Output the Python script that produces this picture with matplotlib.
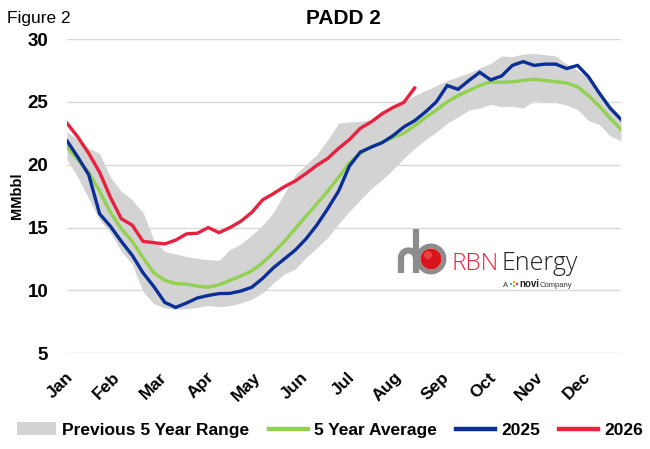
import matplotlib
matplotlib.use("Agg")
import matplotlib.pyplot as plt
import numpy as np
from matplotlib.patches import Patch, Circle
from matplotlib.lines import Line2D

plt.rcParams['font.family'] = ['Liberation Sans', 'DejaVu Sans']

months = ['Jan', 'Feb', 'Mar', 'Apr', 'May', 'Jun', 'Jul', 'Aug', 'Sep', 'Oct', 'Nov', 'Dec']
yticks = [5, 10, 15, 20, 25, 30]

range_upper = [22.6, 22.0, 21.3, 20.9, 19.0, 17.9, 17.2, 16.2, 14.0, 13.1,
               12.9, 12.7, 12.55, 12.45, 12.4, 13.25, 13.7, 14.4, 15.2, 16.2,
               17.7, 19.2, 20.0, 20.8, 22.0, 23.3, 23.4, 23.45, 23.6, 24.3,
               24.5, 25.0, 25.5, 25.9, 26.3, 26.7, 27.0, 27.3, 27.7, 28.05,
               28.65, 28.6, 28.8, 28.85, 28.75, 28.65, 28.0, 27.5, 26.9, 25.8,
               24.7, 23.8]
range_lower = [20.4, 19.0, 17.3, 15.6, 14.6, 13.1, 12.1, 9.9, 8.95, 8.6,
               8.5, 8.55, 8.65, 8.8, 8.7, 8.8, 9.0, 9.3, 9.8, 10.6,
               11.3, 11.7, 12.6, 13.4, 14.2, 15.3, 16.3, 17.2, 18.1, 18.8,
               19.6, 20.5, 21.3, 22.0, 22.6, 23.3, 23.8, 24.35, 24.5, 24.8,
               24.6, 24.65, 24.5, 25.1, 25.0, 24.95, 24.75, 24.4, 23.5, 23.2,
               22.3, 21.9]
avg_5yr = [21.4, 20.4, 19.4, 17.9, 16.2, 14.9, 13.9, 12.6, 11.4, 10.8,
           10.55, 10.5, 10.35, 10.25, 10.45, 10.8, 11.15, 11.55, 12.2, 13.0,
           13.9, 14.9, 15.9, 16.9, 17.9, 19.0, 20.15, 20.9, 21.4, 21.8,
           22.15, 22.5, 23.1, 23.75, 24.35, 25.0, 25.5, 25.9, 26.3, 26.6,
           26.55, 26.6, 26.7, 26.8, 26.7, 26.6, 26.5, 26.2, 25.5, 24.65,
           23.7, 22.8]
y2025 = [21.9, 20.6, 19.2, 16.1, 15.1, 13.9, 12.8, 11.4, 10.3, 9.05,
         8.65, 9.0, 9.4, 9.6, 9.75, 9.77, 9.95, 10.25, 10.95, 11.8,
         12.5, 13.2, 14.1, 15.2, 16.5, 17.9, 19.9, 21.0, 21.4, 21.75,
         22.3, 23.0, 23.5, 24.2, 25.0, 26.3, 26.0, 26.7, 27.35, 26.75,
         27.05, 27.9, 28.2, 27.9, 28.0, 28.0, 27.65, 27.9, 27.0, 25.7,
         24.5, 23.6]
y2026 = [23.3, 22.2, 20.9, 19.4, 17.4, 15.7, 15.2, 13.9, 13.8, 13.7,
         14.0, 14.5, 14.55, 15.0, 14.6, 15.0, 15.5, 16.2, 17.2, 17.7,
         18.25, 18.7, 19.3, 19.95, 20.5, 21.3, 22.0, 22.9, 23.4, 24.05,
         24.55, 24.95, 26.1]

c_range = '#d3d3d3'
c_avg = '#92d050'
c_2025 = '#0a2f96'
c_2026 = '#e8213f'

W, H = 650, 449
fig = plt.figure(figsize=(W / 100, H / 100), dpi=100)
ax = fig.add_axes([67 / W, 1 - 353.3 / H, (621 - 67) / W, (353.3 - 39) / H])

weeks = np.arange(len(range_upper))
ax.fill_between(weeks, range_lower, range_upper, color=c_range, lw=0, zorder=1)
lw = 2.4
ax.plot(weeks, avg_5yr, color=c_avg, lw=lw, zorder=3, solid_joinstyle='miter')
ax.plot(weeks, y2025, color=c_2025, lw=lw, zorder=4, solid_joinstyle='miter')
ax.plot(np.arange(len(y2026)), y2026, color=c_2026, lw=lw, zorder=5, solid_joinstyle='miter')

ax.set_xlim(0, len(range_upper) - 1)
ax.set_ylim(5, 30)
ax.set_yticks(yticks)
ax.set_yticklabels([str(v) for v in yticks], fontsize=13.5, fontweight='bold')
ax.grid(axis='y', color='#d9d9d9', lw=1.0, zorder=0)
ax.set_axisbelow(True)
for s in ax.spines.values():
    s.set_visible(False)
ax.tick_params(axis='y', length=0, pad=13.5)
ax.tick_params(axis='x', length=0, pad=15.5)

step = len(range_upper) / 12.0
ax.set_xticks([m * step + 0.3 for m in range(12)])
ax.set_xticklabels(months, rotation=45, ha='right', va='center',
                   rotation_mode='anchor', fontsize=12.5, fontweight='bold')

ax.set_ylabel('MMbbl', fontsize=10.5, fontweight='bold')
ax.yaxis.set_label_coords(-0.077, 0.5)

fig.text(343 / W, 1 - 19 / H, 'PADD 2', ha='center', va='center',
         fontsize=15, fontweight='bold')
fig.text(7 / W, 1 - 19 / H, 'Figure 2', ha='left', va='center', fontsize=12.5)

handles = [Patch(facecolor=c_range, edgecolor='none'),
           Line2D([], [], color=c_avg, lw=3.2),
           Line2D([], [], color=c_2025, lw=3.2),
           Line2D([], [], color=c_2026, lw=3.2)]
labels = ['Previous 5 Year Range', '5 Year Average', '2025', '2026']
fig.legend(handles, labels, loc='center', bbox_to_anchor=(330 / W, 1 - 430 / H),
           ncol=4, frameon=False, prop={'weight': 'bold', 'size': 12.5},
           handlelength=2.25, handleheight=0.75, handletextpad=0.35,
           columnspacing=1.1)

# logo overlay in pixel coordinates
lax = fig.add_axes([0, 0, 1, 1], zorder=10)
lax.set_xlim(0, W)
lax.set_ylim(H, 0)
lax.axis('off')
t = np.linspace(np.pi, 0, 30)
px = np.concatenate([[401, 401], 408.5 + 7.5 * np.cos(t), [416, 416]])
py = np.concatenate([[273, 258], 258 - 7.5 * np.sin(t), [258, 258]])
lax.plot(px, py, color='#8c8c8c', lw=4.5, solid_capstyle='butt')
lax.plot([416, 416], [229, 273], color='#8c8c8c', lw=4.5, solid_capstyle='butt')
lax.add_patch(Circle((431, 259), 13, facecolor='none', edgecolor='#8c8c8c', lw=3.5))
lax.add_patch(Circle((431, 259), 10.5, facecolor='#d8141c', edgecolor='none'))
lax.add_patch(Circle((428, 255), 4, facecolor='#ff6060', edgecolor='none', alpha=0.6))
lax.text(452, 270, 'RBN', color='#e8213f', fontsize=17.5, family='Open Sans',
         fontweight='light', ha='left', va='baseline')
lax.text(502, 270, 'Energy', color='#222222', fontsize=18, family='Open Sans',
         fontweight='light', ha='left', va='baseline')
lax.text(503, 287, 'A', color='#333333', fontsize=5.5, ha='left', va='baseline')
for dx, dy, cc in [(0, 0, '#4aa3df'), (3, -2, '#f4b400'), (3, 2, '#8bc34a'), (6, 0, '#e91e63')]:
    lax.add_patch(Circle((511 + dx, 284 + dy), 1.2, facecolor=cc, edgecolor='none'))
lax.text(519, 287, 'novi', color='#222222', fontsize=7, fontweight='bold',
         ha='left', va='baseline')
lax.text(540, 287, 'Company', color='#333333', fontsize=5.5, ha='left', va='baseline')

fig.savefig('out.png', dpi=100)
